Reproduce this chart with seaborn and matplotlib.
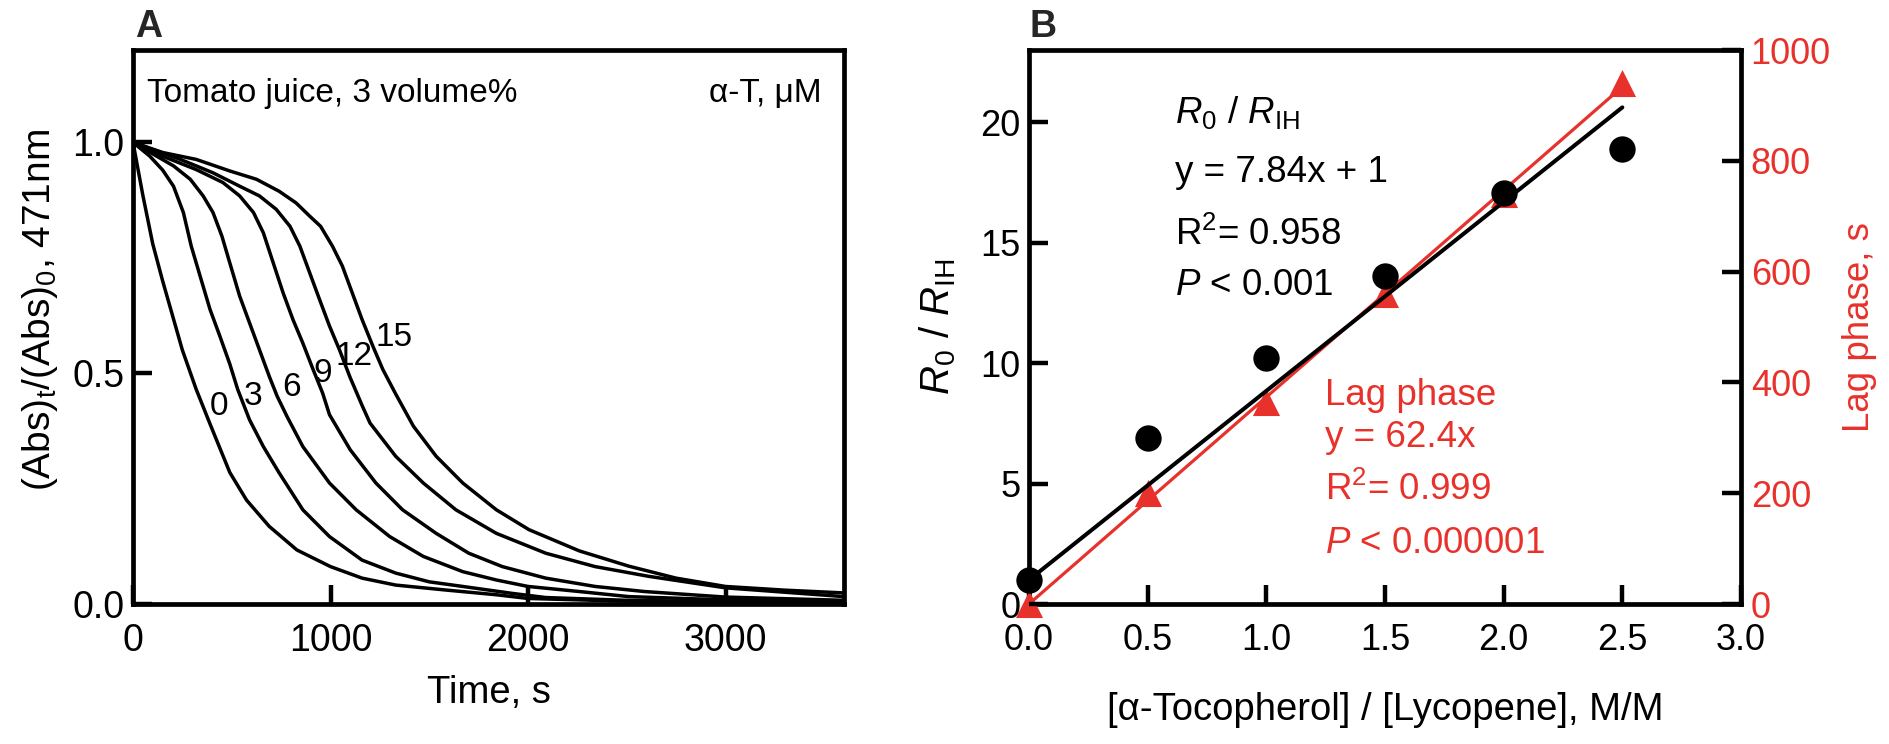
import matplotlib
matplotlib.use('Agg')
import matplotlib.pyplot as plt
import seaborn as sns
import numpy as np
import pandas as pd

sns.set_theme(style='ticks')
FONT = ['Liberation Sans', 'DejaVu Sans']
plt.rcParams['font.family'] = FONT
plt.rcParams['mathtext.fontset'] = 'custom'
plt.rcParams['mathtext.rm'] = 'Liberation Sans'
plt.rcParams['mathtext.it'] = 'Liberation Sans:italic'
plt.rcParams['mathtext.bf'] = 'Liberation Sans:bold'
plt.rcParams['mathtext.sf'] = 'Liberation Sans'

RED = '#e8312b'

# ---------------- Panel A data: bleaching curves ----------------
conc_labels = ['0', '3', '6', '9', '12', '15']
t0 = [0, 50, 100, 150, 200, 250, 320, 390, 490, 575, 690, 830, 1000, 1160, 1330, 1590, 1840, 2000, 2500, 3000, 3600]
v0 = [1.0, 0.885, 0.78, 0.70, 0.625, 0.55, 0.465, 0.39, 0.285, 0.225, 0.168, 0.117, 0.081, 0.056, 0.041, 0.030, 0.020, 0.012, 0.006, 0.004, 0.003]
t3 = [0, 85, 150, 205, 255, 295, 340, 390, 440, 490, 530, 590, 660, 740, 860, 995, 1160, 1330, 1500, 1670, 1920, 2090, 2500, 3000, 3600]
v3 = [1.0, 0.97, 0.94, 0.905, 0.848, 0.775, 0.71, 0.638, 0.58, 0.52, 0.465, 0.399, 0.341, 0.284, 0.204, 0.146, 0.095, 0.067, 0.048, 0.038, 0.023, 0.014, 0.008, 0.005, 0.004]
t6 = [0, 120, 205, 290, 355, 405, 450, 490, 540, 590, 640, 690, 730, 780, 860, 995, 1130, 1300, 1470, 1670, 1840, 2000, 2260, 2510, 3000, 3600]
v6 = [1.0, 0.97, 0.949, 0.92, 0.884, 0.848, 0.797, 0.739, 0.667, 0.609, 0.551, 0.493, 0.45, 0.406, 0.341, 0.262, 0.204, 0.146, 0.103, 0.070, 0.052, 0.038, 0.027, 0.016, 0.009, 0.006]
t9 = [0, 150, 320, 455, 540, 610, 660, 710, 760, 810, 860, 910, 960, 995, 1100, 1230, 1365, 1535, 1700, 1870, 2090, 2340, 2590, 3000, 3600]
v9 = [1.0, 0.97, 0.941, 0.913, 0.884, 0.848, 0.804, 0.739, 0.674, 0.616, 0.565, 0.51, 0.457, 0.41, 0.334, 0.262, 0.204, 0.153, 0.110, 0.081, 0.056, 0.038, 0.027, 0.015, 0.008]
t12 = [0, 240, 405, 540, 640, 725, 795, 845, 895, 945, 995, 1045, 1100, 1160, 1200, 1330, 1470, 1635, 1840, 2090, 2340, 2610, 3000, 3600]
v12 = [1.0, 0.963, 0.934, 0.905, 0.884, 0.855, 0.818, 0.775, 0.717, 0.659, 0.602, 0.551, 0.49, 0.43, 0.392, 0.32, 0.262, 0.204, 0.153, 0.110, 0.081, 0.060, 0.035, 0.016]
t15 = [0, 150, 320, 490, 625, 740, 825, 895, 950, 1010, 1060, 1110, 1160, 1215, 1265, 1330, 1420, 1535, 1670, 1840, 2005, 2260, 2510, 2750, 3000, 3300, 3600]
v15 = [1.0, 0.978, 0.963, 0.938, 0.92, 0.894, 0.869, 0.84, 0.818, 0.775, 0.732, 0.674, 0.616, 0.558, 0.508, 0.455, 0.385, 0.32, 0.262, 0.204, 0.161, 0.115, 0.082, 0.056, 0.038, 0.030, 0.024]
# label anchor points (time, value) for each curve's number
label_t = [434, 606, 803, 960, 1121, 1323]
label_v = [0.427, 0.45, 0.47, 0.50, 0.536, 0.577]

# ---------------- Panel B data ----------------
ratio = [0.0, 0.5, 1.0, 1.5, 2.0, 2.5]
r0_rih = [1.0, 6.9, 10.2, 13.6, 17.05, 18.9]
lag_phase = [0, 200, 365, 560, 740, 940]

curves_t = [t0, t3, t6, t9, t12, t15]
curves_v = [v0, v3, v6, v9, v12, v15]
df_a = pd.concat([pd.DataFrame({'t': t, 'v': v, 'conc': c})
                  for t, v, c in zip(curves_t, curves_v, conc_labels)], ignore_index=True)

W, H = 1890, 744
fig = plt.figure(figsize=(W / 100, H / 100), dpi=100)

SP_LW = 3.4
TICK_FS_A = 27
TICK_FS_B = 26
LAB_FS = 27.5
NOTE_FS = 26.5

def style_spines(ax):
    for s in ax.spines.values():
        s.set_linewidth(SP_LW)
        s.set_color('black')

# ---------------- Panel A ----------------
ax_a = fig.add_axes([133 / W, 1 - 604 / H, 711 / W, 554 / H])
sns.lineplot(data=df_a, x='t', y='v', hue='conc', units='conc', estimator=None,
             palette=['black'] * len(conc_labels), legend=False, lw=2.5, sort=False, ax=ax_a)
ax_a.set_xlim(0, 3600)
ax_a.set_ylim(0, 1.2)
ax_a.set_xticks([0, 1000, 2000, 3000])
ax_a.set_xticklabels(['0', '1000', '2000', '3000'])
ax_a.set_yticks([0, 0.5, 1.0])
ax_a.set_yticklabels(['0.0', '0.5', '1.0'])
ax_a.tick_params(direction='in', length=14, width=3.2, labelsize=TICK_FS_A, top=False, right=False,
                 color='black', labelcolor='black')
ax_a.tick_params(axis='x', pad=14)
ax_a.tick_params(axis='y', pad=6)
style_spines(ax_a)
ax_a.set_xlabel('Time, s', fontsize=LAB_FS, labelpad=11, color='black')
ax_a.set_ylabel(r'(Abs)$_{\rm t}$/(Abs)$_{\rm 0}$, 471nm', fontsize=28, color='black')
ax_a.yaxis.set_label_coords(-0.103, 0.53)
for lab, lt, lv in zip(conc_labels, label_t, label_v):
    ax_a.text(lt, lv, lab, fontsize=24, ha='center', va='center', color='black')
ax_a.text(0.02, 0.906, 'Tomato juice, 3 volume%', transform=ax_a.transAxes, fontsize=24,
          ha='left', va='baseline', color='black')
ax_a.text(0.969, 0.906, 'α-T, μM', transform=ax_a.transAxes, fontsize=24,
          ha='right', va='baseline', color='black')
fig.text(135 / W, 1 - 37 / H, 'A', fontsize=27, fontweight='bold', ha='left', va='baseline')

# ---------------- Panel B ----------------
ax_r = fig.add_axes([1029 / W, 1 - 604 / H, 712 / W, 554 / H])
ax_b = ax_r.twinx()
ax_r.yaxis.tick_right()
ax_r.yaxis.set_label_position('right')
ax_b.yaxis.tick_left()
ax_b.yaxis.set_label_position('left')

x_arr = np.array(ratio)
y_black = np.array(r0_rih)
y_red = np.array(lag_phase, dtype=float)
# fits: R0/RIH with intercept fixed at the first value, lag phase through the origin
b0 = y_black[0]
k_black = np.sum(x_arr * (y_black - b0)) / np.sum(x_arr ** 2)
k_red = np.sum(x_arr * y_red) / np.sum(x_arr ** 2)
xfit = np.array([x_arr.min(), x_arr.max()])

sns.scatterplot(x=ratio, y=lag_phase, marker='^', s=380, color=RED, linewidth=0,
                ax=ax_r, clip_on=False, zorder=4)
sns.lineplot(x=xfit, y=k_red * xfit, color=RED, lw=2.3, ax=ax_r, zorder=5)

sns.scatterplot(x=ratio, y=r0_rih, marker='o', s=360, color='black', linewidth=0,
                ax=ax_b, clip_on=False, zorder=4)
sns.lineplot(x=xfit, y=k_black * xfit + b0, color='black', lw=2.9, ax=ax_b, zorder=3)

ax_r.set_xlim(0, 3.0)
ax_r.set_xticks([0, 0.5, 1.0, 1.5, 2.0, 2.5, 3.0])
ax_r.set_xticklabels(['0.0', '0.5', '1.0', '1.5', '2.0', '2.5', '3.0'])
ax_r.set_ylim(0, 1000)
ax_r.set_yticks([0, 200, 400, 600, 800, 1000])
ax_r.set_yticklabels(['0', '200', '400', '600', '800', '1000'])
ax_b.set_ylim(0, 23)
ax_b.set_yticks([0, 5, 10, 15, 20])
ax_b.set_yticklabels(['0', '5', '10', '15', '20'])

ax_r.tick_params(axis='x', direction='in', length=14, width=3.2, labelsize=TICK_FS_B, pad=14,
                 top=False, bottom=True, color='black', labelcolor='black')
ax_r.tick_params(axis='y', direction='in', length=14, width=3.2, labelsize=TICK_FS_B, pad=7,
                 left=False, right=True, labelleft=False, labelright=True,
                 color='black', labelcolor=RED)
ax_b.tick_params(axis='y', direction='in', length=14, width=3.2, labelsize=TICK_FS_B, pad=6,
                 left=True, right=False, labelleft=True, labelright=False,
                 color='black', labelcolor='black')
style_spines(ax_r)
for s in ax_b.spines.values():
    s.set_visible(False)

ax_r.set_xlabel('[α-Tocopherol] / [Lycopene], M/M', fontsize=LAB_FS, labelpad=24, color='black')
ax_r.set_ylabel('Lag phase, s', fontsize=26.5, labelpad=8, color=RED)
ax_b.set_ylabel(r'$R_{\rm 0}$ / $R_{\rm IH}$', fontsize=29, labelpad=16, color='black')

bx = 0.205
for txt, yy in [(r'$R_{\rm 0}$ / $R_{\rm IH}$', 0.868), ('y = 7.84x + 1', 0.762),
                (r'R$^{\rm 2}$= 0.958', 0.648), (r'$P$ < 0.001', 0.558)]:
    ax_b.text(bx, yy, txt, transform=ax_b.transAxes, fontsize=NOTE_FS, ha='left', va='baseline',
              color='black')
rx = 0.416
for txt, yy in [('Lag phase', 0.359), ('y = 62.4x', 0.283),
                (r'R$^{\rm 2}$= 0.999', 0.188), (r'$P$ < 0.000001', 0.092)]:
    ax_b.text(rx, yy, txt, transform=ax_b.transAxes, fontsize=NOTE_FS, ha='left', va='baseline',
              color=RED)
fig.text(1030 / W, 1 - 37 / H, 'B', fontsize=27, fontweight='bold', ha='left', va='baseline')

fig.savefig('out.png', dpi=100)
